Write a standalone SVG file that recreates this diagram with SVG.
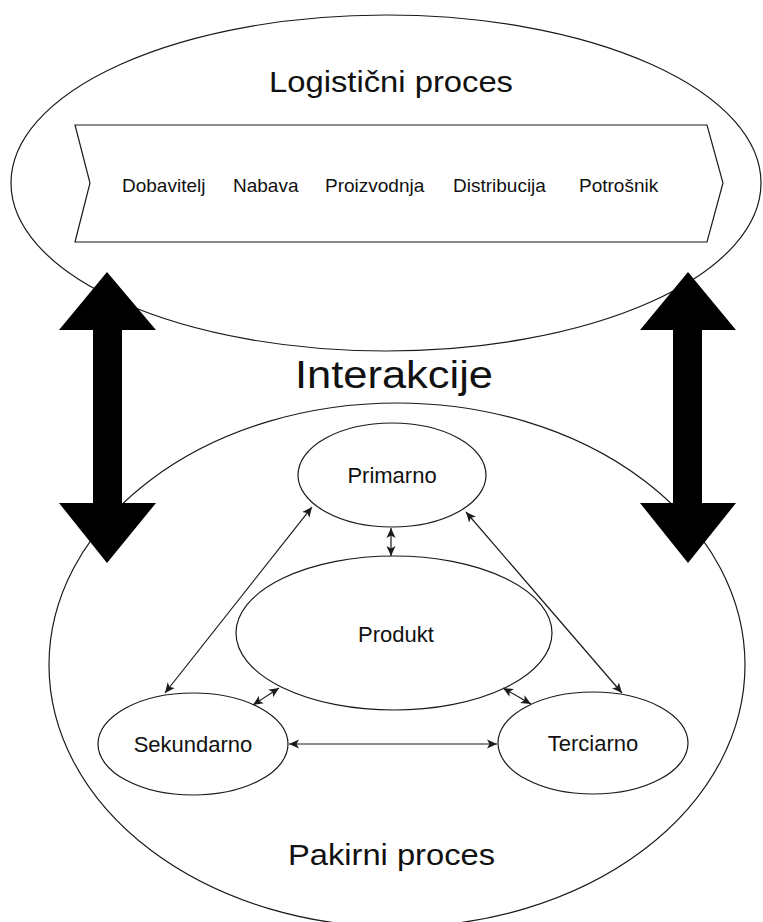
<svg xmlns="http://www.w3.org/2000/svg" width="763" height="922" viewBox="0 0 763 922">
  <style>
    .shape { fill: #ffffff; stroke: #1a1a1a; stroke-width: 1.2; }
    .big { fill: #000000; stroke: none; }
    .link { fill: none; stroke: #1a1a1a; stroke-width: 1.2; marker-start: url(#tip); marker-end: url(#tip); }
    text { font-family: "Liberation Sans", Arial, sans-serif; fill: #111111; }
    .step { font-size: 19px; }
    .node { font-size: 22px; text-anchor: middle; }
    .title { font-size: 29px; }
  </style>
  <defs>
    <marker id="tip" markerUnits="userSpaceOnUse" markerWidth="11" markerHeight="10" refX="10" refY="5" orient="auto-start-reverse">
      <path d="M0,0.5 L10,5 L0,9.5 L2.5,5 Z" fill="#1a1a1a"/>
    </marker>
  </defs>

  <!-- logistics process -->
  <g id="logisticni-proces">
    <ellipse class="shape" cx="386" cy="183" rx="375" ry="168"/>
    <text class="title" x="269" y="92" textLength="244" lengthAdjust="spacingAndGlyphs">Logistični proces</text>
  </g>

  <g id="lanac">
    <polygon class="shape" points="75,125 707,125 723,183 707,242 75,242 90,183"/>
    <text class="step" x="122" y="192">Dobavitelj</text>
    <text class="step" x="233" y="192">Nabava</text>
    <text class="step" x="325" y="192">Proizvodnja</text>
    <text class="step" x="453" y="192">Distribucija</text>
    <text class="step" x="579" y="192">Potrošnik</text>
  </g>

  <!-- packaging process -->
  <g id="pakirni-proces">
    <ellipse class="shape" cx="397" cy="665" rx="348" ry="262"/>
    <text class="title" x="288" y="865" font-size="31" textLength="207" lengthAdjust="spacingAndGlyphs">Pakirni proces</text>
  </g>

  <g id="interakcije">
    <text x="295" y="388" font-size="38" textLength="198" lengthAdjust="spacingAndGlyphs">Interakcije</text>
  </g>

  <!-- two-way interaction arrows -->
  <g id="strelica-lijevo">
    <polygon class="big" points="107,272 156,330 122,330 122,503 156,503 107,563 59,503 93,503 93,330 59,330"/>
  </g>
  <g id="strelica-desno">
    <polygon class="big" points="688,272 736,330 702,330 702,503 736,503 688,563 640,503 673,503 673,330 640,330"/>
  </g>

  <g id="primarno">
    <ellipse class="shape" cx="392" cy="475" rx="94" ry="52"/>
    <text class="node" x="392" y="483">Primarno</text>
  </g>
  <g id="produkt">
    <ellipse class="shape" cx="394" cy="633" rx="158" ry="77"/>
    <text class="node" x="396" y="642">Produkt</text>
  </g>
  <g id="sekundarno">
    <ellipse class="shape" cx="193" cy="744" rx="95" ry="51"/>
    <text class="node" x="193" y="752">Sekundarno</text>
  </g>
  <g id="terciarno">
    <ellipse class="shape" cx="593" cy="743" rx="95" ry="51"/>
    <text class="node" x="593" y="751">Terciarno</text>
  </g>

  <g id="veze">
    <line class="link" x1="391" y1="528" x2="391" y2="556"/>
    <line class="link" x1="312" y1="507" x2="165" y2="693"/>
    <line class="link" x1="466" y1="512" x2="622" y2="693"/>
    <line class="link" x1="279" y1="688" x2="253" y2="705"/>
    <line class="link" x1="503" y1="688" x2="531" y2="704"/>
    <line class="link" x1="289" y1="744" x2="497" y2="744"/>
  </g>
</svg>
